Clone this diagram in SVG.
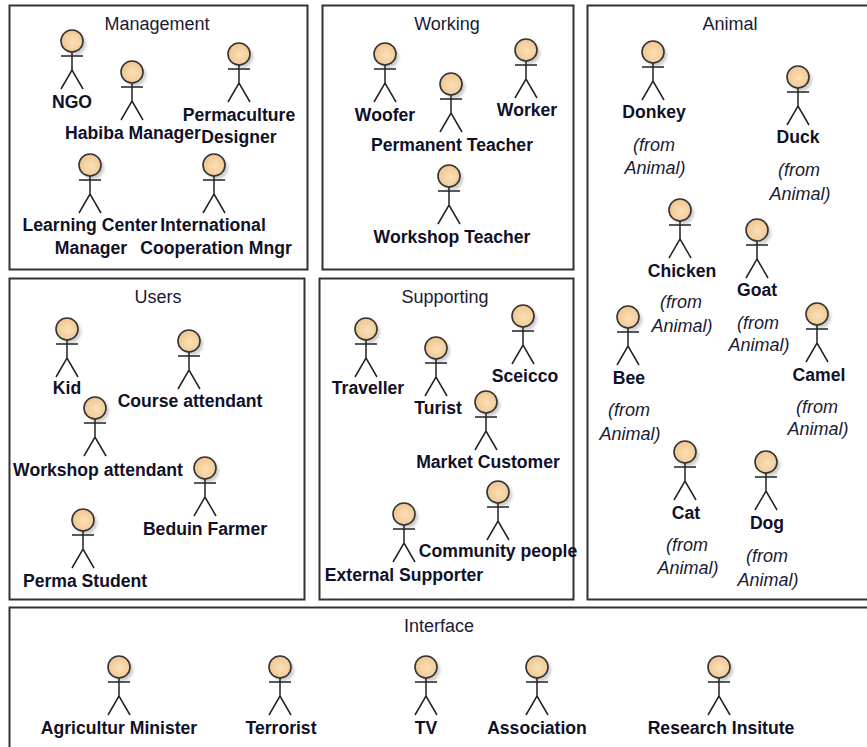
<svg xmlns="http://www.w3.org/2000/svg" width="867" height="747" viewBox="0 0 867 747">
<style>
.box{fill:#fff;stroke:#333;stroke-width:2}
.t{font:18px "Liberation Sans",Arial,sans-serif;fill:#1a1a33;text-anchor:middle}
.n{font:bold 17.600px "Liberation Sans",Arial,sans-serif;fill:#101028;text-anchor:middle;transform:translateY(.6px)}
.f{font:italic 18px "Liberation Sans",Arial,sans-serif;fill:#1a1a33;text-anchor:middle;transform:translateY(.6px)}
.l{fill:none;stroke:#222;stroke-width:1.5}
</style>
<defs>
<radialGradient id="sk" cx="55%" cy="55%" r="60%"><stop offset="0" stop-color="#fbe0b8"/><stop offset="1" stop-color="#eec48c"/></radialGradient>
<filter id="sh" x="-30%" y="-30%" width="170%" height="170%"><feGaussianBlur stdDeviation="1.5"/></filter>
<g id="actor">
<circle cx="3" cy="3" r="11" fill="#999" opacity=".5" filter="url(#sh)"/>
<circle r="11" fill="url(#sk)" stroke="#333" stroke-width="1.6"/>
<path class="l" d="M0 11V29M-11 15H11M-11 48L0 29L11 48"/>
</g>
</defs>
<rect width="867" height="747" fill="#fff"/>
<g id="frames">
<rect class="box" x="9.500" y="5.500" width="298" height="264"/>
<rect class="box" x="322.500" y="5.500" width="251" height="264"/>
<rect class="box" x="587.500" y="5.500" width="290" height="594"/>
<rect class="box" x="9.500" y="278.500" width="295" height="321"/>
<rect class="box" x="319.500" y="278.500" width="254" height="321"/>
<rect class="box" x="9.500" y="607.500" width="868" height="150"/>
<text class="t" x="157" y="30">Management</text>
<text class="t" x="447" y="30">Working</text>
<text class="t" x="730" y="30">Animal</text>
<text class="t" x="158" y="303">Users</text>
<text class="t" x="445" y="303">Supporting</text>
<text class="t" x="439" y="632">Interface</text>
</g>
<g id="connectors"/>
<g id="ngo"><use href="#actor" x="72" y="41"/><text class="n" x="72" y="107">NGO</text></g>
<g id="habiba"><use href="#actor" x="132" y="72"/><text class="n" x="133" y="138">Habiba Manager</text></g>
<g id="permaculture"><use href="#actor" x="239" y="54"/><text class="n" x="239" y="120">Permaculture</text><text class="n" x="239" y="142">Designer</text></g>
<g id="learning"><use href="#actor" x="90" y="165"/><text class="n" x="90" y="230">Learning Center</text><text class="n" x="91" y="253">Manager</text></g>
<g id="international"><use href="#actor" x="214" y="165"/><text class="n" x="213" y="230">International</text><text class="n" x="216" y="253">Cooperation Mngr</text></g>
<g id="woofer"><use href="#actor" x="385" y="54"/><text class="n" x="385" y="120">Woofer</text></g>
<g id="permanent"><use href="#actor" x="451" y="84"/><text class="n" x="452" y="150">Permanent Teacher</text></g>
<g id="worker"><use href="#actor" x="526" y="50"/><text class="n" x="527" y="115">Worker</text></g>
<g id="workshopteacher"><use href="#actor" x="449" y="176"/><text class="n" x="452" y="242">Workshop Teacher</text></g>
<g id="donkey"><use href="#actor" x="653" y="52"/><text class="n" x="654" y="117">Donkey</text><text class="f" x="654" y="150">(from</text><text class="f" x="655" y="173">Animal)</text></g>
<g id="duck"><use href="#actor" x="798" y="77"/><text class="n" x="798" y="142">Duck</text><text class="f" x="799" y="175">(from</text><text class="f" x="800" y="199">Animal)</text></g>
<g id="chicken"><use href="#actor" x="680" y="210"/><text class="n" x="682" y="276">Chicken</text><text class="f" x="681" y="307">(from</text><text class="f" x="682" y="331">Animal)</text></g>
<g id="goat"><use href="#actor" x="757" y="230"/><text class="n" x="757" y="295">Goat</text><text class="f" x="758" y="328">(from</text><text class="f" x="759" y="350">Animal)</text></g>
<g id="bee"><use href="#actor" x="628" y="317"/><text class="n" x="629" y="383">Bee</text><text class="f" x="629" y="415">(from</text><text class="f" x="630" y="439">Animal)</text></g>
<g id="camel"><use href="#actor" x="817" y="314"/><text class="n" x="819" y="380">Camel</text><text class="f" x="817" y="412">(from</text><text class="f" x="818" y="434">Animal)</text></g>
<g id="cat"><use href="#actor" x="685" y="452"/><text class="n" x="686" y="518">Cat</text><text class="f" x="687" y="550">(from</text><text class="f" x="688" y="573">Animal)</text></g>
<g id="dog"><use href="#actor" x="766" y="462"/><text class="n" x="767" y="528">Dog</text><text class="f" x="767" y="561">(from</text><text class="f" x="768" y="585">Animal)</text></g>
<g id="kid"><use href="#actor" x="67" y="329"/><text class="n" x="67" y="393">Kid</text></g>
<g id="course"><use href="#actor" x="189" y="341"/><text class="n" x="190" y="406">Course attendant</text></g>
<g id="workshopattendant"><use href="#actor" x="95" y="408"/><text class="n" x="98" y="475">Workshop attendant</text></g>
<g id="beduin"><use href="#actor" x="205" y="468"/><text class="n" x="205" y="534">Beduin Farmer</text></g>
<g id="permastudent"><use href="#actor" x="83" y="520"/><text class="n" x="85" y="586">Perma Student</text></g>
<g id="traveller"><use href="#actor" x="366" y="329"/><text class="n" x="368" y="393">Traveller</text></g>
<g id="turist"><use href="#actor" x="436" y="348"/><text class="n" x="438" y="413">Turist</text></g>
<g id="sceicco"><use href="#actor" x="523" y="316"/><text class="n" x="525" y="381">Sceicco</text></g>
<g id="market"><use href="#actor" x="486" y="402"/><text class="n" x="488" y="467">Market Customer</text></g>
<g id="community"><use href="#actor" x="498" y="492"/><text class="n" x="498" y="556">Community people</text></g>
<g id="external"><use href="#actor" x="404" y="514"/><text class="n" x="404" y="580">External Supporter</text></g>
<g id="agricultur"><use href="#actor" x="119" y="667"/><text class="n" x="119" y="733">Agricultur Minister</text></g>
<g id="terrorist"><use href="#actor" x="280" y="667"/><text class="n" x="281" y="733">Terrorist</text></g>
<g id="tv"><use href="#actor" x="426" y="667"/><text class="n" x="426" y="733">TV</text></g>
<g id="association"><use href="#actor" x="537" y="667"/><text class="n" x="537" y="733">Association</text></g>
<g id="research"><use href="#actor" x="719" y="667"/><text class="n" x="721" y="733">Research Insitute</text></g>
</svg>
